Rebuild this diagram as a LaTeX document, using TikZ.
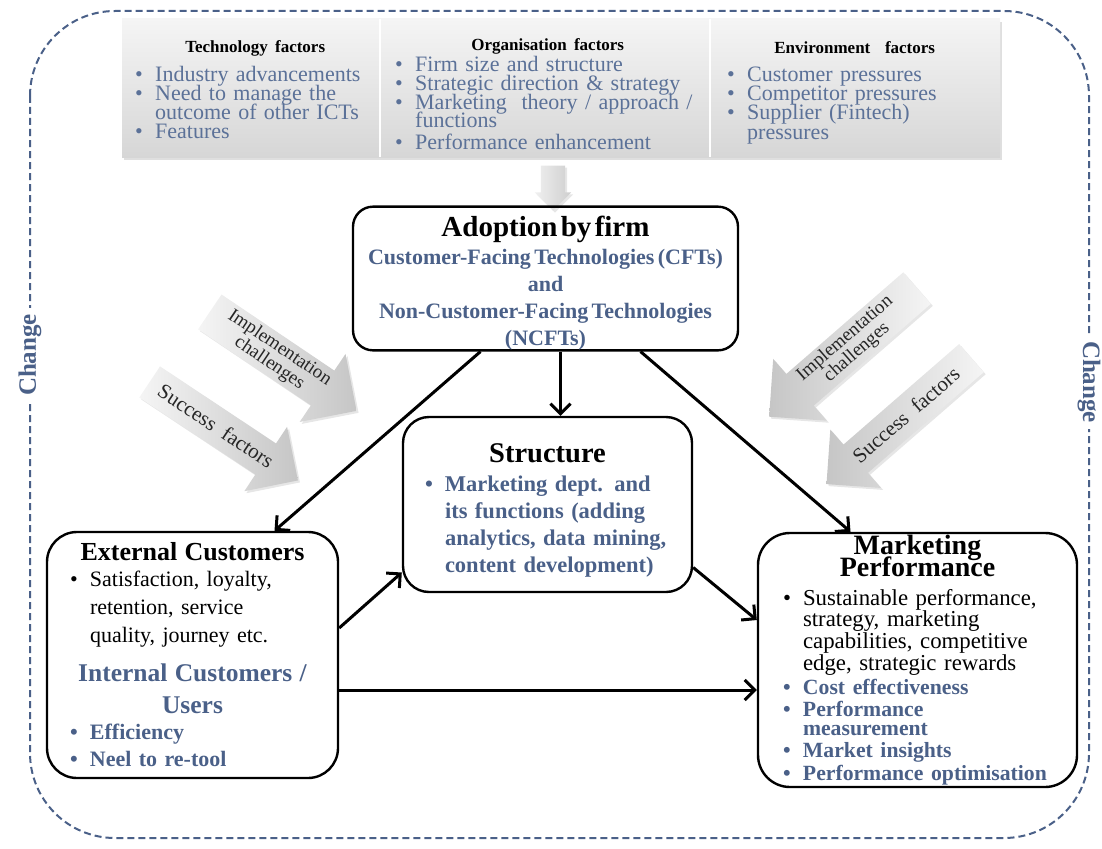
\documentclass[tikz,border=0pt]{standalone}
\usepackage{fontspec}
\setmainfont{Liberation Serif}[BoldFeatures={WordSpace=1.5}]
\usetikzlibrary{arrows.meta,shapes.arrows,shadows}

\definecolor{chblue}{HTML}{4A6088}
\definecolor{bnblue}{HTML}{5B7198}

\newcommand{\bul}{\makebox[20pt][l]{\textbullet}}
\newcommand{\ind}{\hspace*{20pt}}

\tikzset{
  box/.style={draw, line width=2.4pt, rounded corners=22pt, inner sep=0pt, align=left,
    execute at begin node={\lineskiplimit=-50pt}},
  link/.style={line width=3pt, -{Straight Barb[length=10pt,width=20pt]}},
  grayarrow/.style={shape=single arrow, single arrow head extend=20pt, inner xsep=3pt, inner ysep=3pt,
    left color=gray!8, right color=gray!45, text=black!85,
    drop shadow={opacity=0.2, shadow xshift=2pt, shadow yshift=-2pt}},
  col/.style={anchor=north west, inner sep=0pt, align=left, text=bnblue, font=\fontsize{22}{19}\selectfont,
    execute at begin node={\lineskiplimit=-50pt}}
}

\begin{document}
\begin{tikzpicture}[x=1pt,y=-1pt]
\useasboundingbox (0,0) rectangle (1102,848);

% outer border
\draw[chblue, line width=2pt, dash pattern=on 7pt off 4pt, rounded corners=85pt] (30,11) rectangle (1089,838);
\node[fill=white, text=chblue, font=\fontsize{25}{25}\bfseries\selectfont, rotate=90, inner sep=6pt] (chgL) at (30,355) {Change};
\node[fill=white, text=chblue, font=\fontsize{25}{25}\bfseries\selectfont, rotate=-90, inner sep=6pt] (chgR) at (1089,382) {Change};

% factors banner
\node[top color=gray!8, bottom color=gray!32, minimum width=878pt, minimum height=138pt, inner sep=0pt,
  drop shadow={opacity=0.25, shadow xshift=2pt, shadow yshift=-3pt}] (bann) at (561,88) {};
\draw[white, line width=1.5pt] ([xshift=258pt]bann.north west) -- ([xshift=258pt]bann.south west);
\draw[white, line width=1.5pt] ([xshift=588pt]bann.north west) -- ([xshift=588pt]bann.south west);

\node[col, text width=240pt] (tech) at (135,40) {%
  {\centering\color{black}\fontsize{17}{19}\bfseries\selectfont Technology factors\par}\vspace{10pt}
  \bul Industry advancements\\
  \bul Need to manage the\\
  \ind outcome of other ICTs\\
  \bul Features};
\node[col, text width=305pt, font=\fontsize{22}{18.7}\selectfont] (org) at (395,38) {%
  {\centering\color{black}\fontsize{17}{19}\bfseries\selectfont Organisation factors\par}\vspace{3pt}
  \bul Firm size and structure\\
  \bul Strategic direction \& strategy\\
  \bul Marketing\ \ theory / approach /\\
  \ind functions\\[3pt]
  \bul Performance enhancement};
\node[col, text width=255pt] (env) at (727,41) {%
  {\centering\color{black}\fontsize{17}{19}\bfseries\selectfont Environment\ \ factors\par}\vspace{9pt}
  \bul Customer pressures\\
  \bul Competitor pressures\\
  \bul Supplier (Fintech)\\[1pt]
  \ind pressures};

\node[grayarrow, single arrow head extend=6pt, inner ysep=12pt, inner xsep=0pt, rotate=-90,
  minimum height=45pt, left color=gray!12, right color=gray!38] (down) at (553,182) {};

% boxes
\node[box, align=center, rounded corners=20pt, minimum width=385pt, minimum height=143pt, text width=378pt] (adopt) at (545.5,278.5) {%
  {\fontsize{29}{30}\bfseries\selectfont\rule{0pt}{30pt}Adoption by firm\par}\vspace{1pt}
  {\color{chblue}\bfseries\fontsize{22}{27}\selectfont Customer-Facing Technologies (CFTs)\\and\\Non-Customer-Facing Technologies\\(NCFTs)\par}};

\node[box, rounded corners=26pt, minimum width=289pt, minimum height=175pt, text width=245pt,
  font=\fontsize{22.5}{27}\selectfont] (struct) at (547.5,504.5) {%
  {\centering\fontsize{28.5}{30}\bfseries\selectfont\rule{0pt}{31.5pt}Structure\par}\vspace{2pt}
  {\color{chblue}\bfseries\bul Marketing dept. and\\\ind its functions (adding\\\ind analytics, data mining,\\\ind content development)\par}};

\node[box, rounded corners=30pt, minimum width=291pt, minimum height=246pt, text width=245pt,
  font=\fontsize{22}{28}\selectfont] (ext) at (192.5,655) {%
  {\centering\fontsize{26}{28}\bfseries\selectfont External Customers\par}\vspace{-2pt}
  \bul Satisfaction, loyalty,\\\ind retention, service\\\ind quality, journey etc.\par\vspace{7pt}
  {\centering\color{chblue}\fontsize{25.5}{32}\bfseries\selectfont Internal Customers /\\Users\par}\vspace{-1pt}
  {\color{chblue}\bfseries\fontsize{22}{27}\selectfont\bul Efficiency\\\bul Neel to re-tool\par}};

\node[box, rounded corners=32pt, minimum width=319pt, minimum height=254pt, text width=269pt,
  font=\fontsize{22.8}{21.7}\selectfont] (mp) at (917.5,660) {%
  {\centering\fontsize{28}{22}\bfseries\selectfont Marketing\\Performance\par}\vspace{7pt}
  \bul Sustainable performance,\\\ind strategy, marketing\\\ind capabilities, competitive\\\ind edge, strategic rewards\par\vspace{2pt}
  {\color{chblue}\bfseries\fontsize{21.7}{22}\selectfont\bul Cost effectiveness\\\bul Performance\\[-3pt]\ind measurement\\\bul Market insights\\[1pt]\bul Performance optimisation\par}};

% side arrows
\node[grayarrow, rotate=-34, minimum height=177pt, align=center, font=\fontsize{19}{17}\selectfont] (implL) at (274.5,355.5) {Implementation\\challenges};
\node[grayarrow, rotate=-33.6, minimum height=178pt, inner ysep=11pt, font=\fontsize{21}{21}\selectfont] (succL) at (216,426) {Success\ \ factors};
\node[grayarrow, rotate=41, shape border rotate=180, left color=gray!45, right color=gray!8, minimum height=196pt, align=center,
  font=\fontsize{19}{17}\selectfont] (implR) at (851,345.5) {Implementation\\challenges};
\node[grayarrow, rotate=41, shape border rotate=180, left color=gray!45, right color=gray!8, minimum height=192pt, inner ysep=11pt,
  font=\fontsize{21}{21}\selectfont] (succR) at (906,415) {Success\ \ factors};

% links
\draw[link] ([xshift=-65pt]adopt.south) -- ([xshift=82pt]ext.north);
\draw[link] ([xshift=15pt]adopt.south) -- ([xshift=13pt]struct.north);
\draw[link] ([xshift=95pt]adopt.south) -- ([xshift=-67pt]mp.north);
\draw[link] ([yshift=27pt]ext.east) -- ([yshift=-68pt]struct.west);
\draw[link] ([yshift=-63pt]struct.east) -- ([yshift=40pt]mp.west);
\draw[link] ([yshift=-35pt]ext.east) -- ([yshift=-35pt]ext.east -| mp.west);
\end{tikzpicture}
\end{document}
